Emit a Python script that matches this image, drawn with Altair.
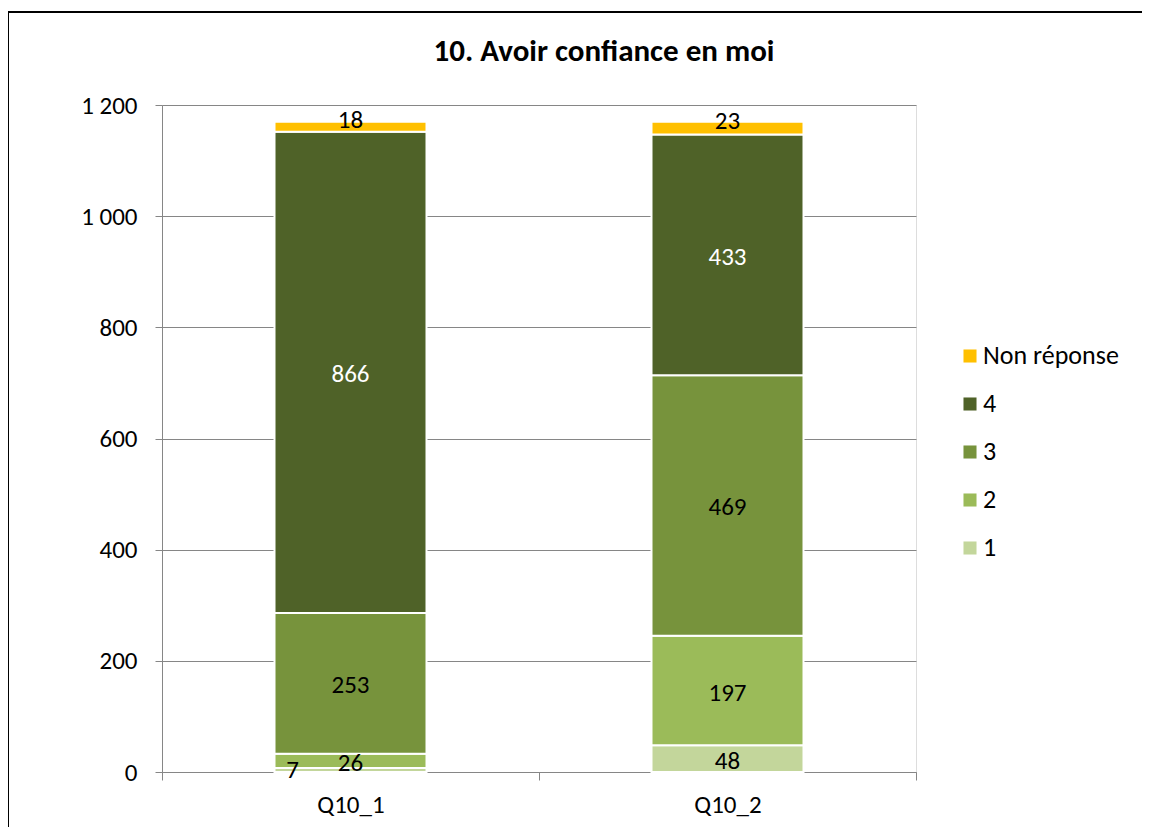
import altair as alt
import pandas as pd

categories = ["Q10_1", "Q10_2"]
levels = ["1", "2", "3", "4", "Non réponse"]
q10_1 = [7, 26, 253, 866, 18]
q10_2 = [48, 197, 469, 433, 23]
title_text = "10. Avoir confiance en moi"

legend_order = ["Non réponse", "4", "3", "2", "1"]
colors = ["#FFC000", "#4F6228", "#77933C", "#9BBB59", "#C3D69B"]

rows = []
for cat, vals in zip(categories, [q10_1, q10_2]):
    for i, (lev, v) in enumerate(zip(levels, vals)):
        rows.append({"cat": cat, "level": lev, "value": v, "rank": i})
df = pd.DataFrame(rows)

FONT = "Carlito, Calibri, Lato, sans-serif"
FS = 25

base = alt.Chart(df)

x_enc = alt.X("cat:N", sort=categories, title=None,
              scale=alt.Scale(paddingInner=0, paddingOuter=0),
              axis=alt.Axis(labelAngle=0, tickBand="extent", tickSize=8,
                            labelPadding=12, domainColor="#868686",
                            tickColor="#868686", labelFontSize=FS,
                            labelColor="#000000", labelFont=FONT))

bars = base.mark_bar(width=152, stroke="white", strokeWidth=2).encode(
    x=x_enc,
    y=alt.Y("value:Q", stack="zero", title=None,
            scale=alt.Scale(domain=[0, 1200]),
            axis=alt.Axis(values=[0, 200, 400, 600, 800, 1000, 1200],
                          labelExpr="replace(format(datum.value, ',d'), ',', ' ')",
                          gridColor="#868686", domainColor="#868686",
                          tickColor="#868686", tickSize=7, labelPadding=18,
                          labelFontSize=FS, labelColor="#000000",
                          labelFont=FONT)),
    color=alt.Color("level:N", scale=alt.Scale(domain=legend_order, range=colors),
                    legend=alt.Legend(title=None, orient="none", legendX=795,
                                      legendY=238, symbolType="square",
                                      symbolSize=170, symbolStrokeWidth=0,
                                      labelFontSize=26, labelFont=FONT,
                                      labelColor="#000000", rowPadding=22,
                                      labelOffset=0)),
    order=alt.Order("rank:Q", sort="ascending"),
)

text_base = base.transform_window(
    cum="sum(value)", groupby=["cat"], sort=[alt.SortField("rank")],
    frame=[None, 0]
).transform_calculate(mid="datum.cum - datum.value / 2")

def text_layer(filt, dx=0, dy=0):
    return text_base.transform_filter(filt).mark_text(
        fontSize=FS, font=FONT, baseline="middle", dx=dx, dy=dy
    ).encode(
        x=alt.X("cat:N", sort=categories),
        y=alt.Y("mid:Q"),
        text=alt.Text("value:Q"),
        color=alt.condition(alt.datum.level == "4", alt.value("white"), alt.value("black")),
    )

labels = text_layer("datum.value >= 10 && datum.level != 'Non réponse'", dy=2)
top_labels = text_layer("datum.level == 'Non réponse'", dy=-7)
small_labels = text_layer("datum.value < 10", dx=-58, dy=0)

title = base.transform_filter("datum.rank == 0 && datum.cat == 'Q10_1'").mark_text(
    fontSize=31, font=FONT, fontWeight="bold", color="black", baseline="middle"
).encode(x=alt.value(442), y=alt.value(-53), text=alt.value(title_text))

border_top = base.mark_rule(color="black", strokeWidth=2).encode(
    x=alt.value(-154), x2=alt.value(1000), y=alt.value(-93))
border_left = base.mark_rule(color="black", strokeWidth=2).encode(
    x=alt.value(-154), y=alt.value(-93), y2=alt.value(740))

chart = alt.layer(bars, labels, top_labels, small_labels, title,
                  border_top, border_left).properties(
    width=754, height=667,
    padding={"left": 154, "top": 97, "right": 226, "bottom": 55},
    autosize=alt.AutoSizeParams(type="none"),
).configure_view(stroke=None).configure(background="white")

chart.save("out.html", embed_options={"renderer": "svg", "actions": False})
